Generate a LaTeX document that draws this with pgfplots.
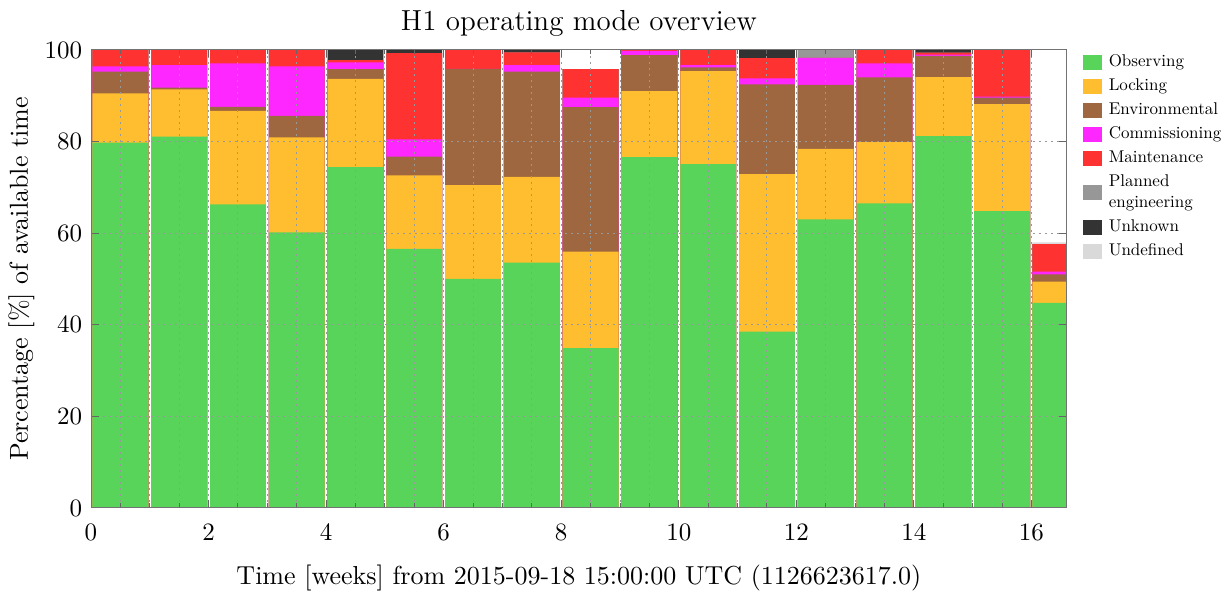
\documentclass[border=0pt]{standalone}
\usepackage{graphicx}
\usepackage{pgfplots}
\usepackage{pgfplotstable}
\pgfplotsset{compat=1.18}
\definecolor{cobs}{HTML}{59D45A}
\definecolor{clock}{HTML}{FFBE2F}
\definecolor{cenv}{HTML}{9E673F}
\definecolor{ccomm}{HTML}{FF27FF}
\definecolor{cmaint}{HTML}{FF3232}
\definecolor{cplan}{HTML}{979797}
\definecolor{cunk}{HTML}{333333}
\definecolor{cundef}{HTML}{D9D9D9}
% cumulative tops of each mode (percent of available time)
\pgfplotstableread{
x     obs  lock env  comm maint plan  unk   undef
0     79.8 90.5 95.3 96.4 100   100   100   100
1     81.1 91.4 91.8 96.7 100   100   100   100
2     66.3 86.7 87.6 97.1 100   100   100   100
3     60.2 80.9 85.6 96.4 100   100   100   100
4     74.4 93.7 95.8 97.3 97.8  97.8  100   100
5     56.6 72.6 76.7 80.5 99.3  99.3  100   100
6     50.0 70.5 95.9 95.9 100   100   100   100
7     53.6 72.3 95.3 96.7 99.5  99.5  100   100
8     34.9 56.0 87.5 89.6 95.8  95.8  95.8  95.8
9     76.6 91.0 98.9 99.8 100   100   100   100
10    75.1 95.4 96.2 96.7 100   100   100   100
11    38.5 72.9 92.5 93.8 98.2  98.2  100   100
12    63.0 78.4 92.4 98.3 98.3  100   100   100
13    66.5 79.9 94.0 97.1 100   100   100   100
14    81.2 94.1 98.7 99.0 99.4  99.4  100   100
15    64.8 88.2 89.6 89.8 100   100   100   100
16    44.8 49.4 51.0 51.6 57.6  57.6  57.6  58.0
16.6  44.8 49.4 51.0 51.6 57.6  57.6  57.6  58.0
}\data
\newcommand\ls{\rule[-3.5pt]{0pt}{11.76pt}}
\newcommand\lt[1]{\scalebox{0.68}{\fontsize{10}{12}\selectfont\ls #1}}
\begin{document}
\begin{tikzpicture}
\begin{axis}[
  name=ax,
  scale only axis, width=390.3pt, height=183.2pt,
  xmin=0, xmax=16.6, ymin=0, ymax=100,
  xtick={0,2,...,16}, minor x tick num=3,
  ytick={0,20,...,100},
  tick align=inside,
  major tick length=3pt, minor tick length=1.8pt,
  axis on top,
  xmajorgrids, xminorgrids, ymajorgrids,
  grid style={black!40, line width=0.4pt, dash pattern=on 0.6pt off 1.8pt},
  axis line style={black!55},
  every tick/.style={black!60},
  tick label style={font=\fontsize{10.4}{12}\selectfont},
  xticklabel style={yshift=-2.9pt},
  label style={font=\fontsize{10.4}{12}\selectfont},
  xlabel={Time [weeks] from 2015-09-18 15:00:00 UTC (1126623617.0)},
  xlabel style={at={(axis description cs:0.5,0)}, anchor=base, yshift=-30.8pt},
  ylabel={Percentage [\%] of available time},
  ylabel style={at={(axis description cs:-0.0646,0.5)}, anchor=base},
  title={H1 operating mode overview},
  title style={font=\fontsize{11.6}{14}\selectfont, at={(axis description cs:0.5,1)}, anchor=base, yshift=1.6pt},
  legend style={at={(axis description cs:1,1)}, anchor=north west, xshift=6.4pt, yshift=-0.8pt,
    draw=none, fill=none, inner sep=0pt, row sep=1.6pt,
    cells={anchor=west, align=left}, nodes={inner sep=0pt, text depth=},
    /tikz/every odd column/.append style={column sep=2.6pt}},
  bar interval width=0.95,
]
\addplot[ybar interval, fill=cundef, draw=none, forget plot] table[x=x, y=undef] {\data};
\addplot[ybar interval, fill=cunk,   draw=none, forget plot] table[x=x, y=unk]   {\data};
\addplot[ybar interval, fill=cplan,  draw=none, forget plot] table[x=x, y=plan]  {\data};
\addplot[ybar interval, fill=cmaint, draw=none, forget plot] table[x=x, y=maint] {\data};
\addplot[ybar interval, fill=ccomm,  draw=none, forget plot] table[x=x, y=comm]  {\data};
\addplot[ybar interval, fill=cenv,   draw=none, forget plot] table[x=x, y=env]   {\data};
\addplot[ybar interval, fill=clock,  draw=none, forget plot] table[x=x, y=lock]  {\data};
\addplot[ybar interval, fill=cobs,   draw=none, forget plot] table[x=x, y=obs]   {\data};

\addlegendimage{legend image code/.code={\fill[cobs] (0pt,-2.8pt) rectangle (7.2pt,2.8pt);}}
\addlegendentry{\lt{Observing}}
\addlegendimage{legend image code/.code={\fill[clock] (0pt,-2.8pt) rectangle (7.2pt,2.8pt);}}
\addlegendentry{\lt{Locking}}
\addlegendimage{legend image code/.code={\fill[cenv] (0pt,-2.8pt) rectangle (7.2pt,2.8pt);}}
\addlegendentry{\lt{Environmental}}
\addlegendimage{legend image code/.code={\fill[ccomm] (0pt,-2.8pt) rectangle (7.2pt,2.8pt);}}
\addlegendentry{\lt{Commissioning}}
\addlegendimage{legend image code/.code={\fill[cmaint] (0pt,-2.8pt) rectangle (7.2pt,2.8pt);}}
\addlegendentry{\lt{Maintenance}}
\addlegendimage{legend image code/.code={\fill[cplan] (0pt,-2.8pt) rectangle (7.2pt,2.8pt);}}
\addlegendentry{\scalebox{0.68}{\fontsize{10}{12}\selectfont\begin{tabular}[b]{@{}l@{}}\ls Planned\\\ls engineering\end{tabular}}}
\addlegendimage{legend image code/.code={\fill[cunk] (0pt,-2.8pt) rectangle (7.2pt,2.8pt);}}
\addlegendentry{\lt{Unknown}}
\addlegendimage{legend image code/.code={\fill[cundef] (0pt,-2.8pt) rectangle (7.2pt,2.8pt);}}
\addlegendentry{\lt{Undefined}}
\end{axis}
\pgfresetboundingbox
\path[use as bounding box] ([xshift=-36.4pt, yshift=-34pt]ax.south west) rectangle ([xshift=65.3pt, yshift=20pt]ax.north east);
\end{tikzpicture}
\end{document}
